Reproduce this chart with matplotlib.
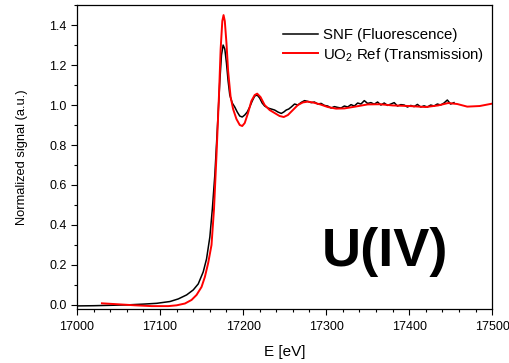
import matplotlib
matplotlib.use("Agg")
import matplotlib.pyplot as plt
from matplotlib.ticker import MultipleLocator

plt.rcParams['font.family'] = ['Liberation Sans', 'DejaVu Sans']

# SNF fluorescence XANES (energy in eV, normalized signal)
snf_E = [17000, 17020, 17040, 17060, 17080, 17096, 17112, 17122, 17132, 17140,
         17146, 17152, 17156, 17160, 17163, 17166, 17169, 17172, 17174, 17176,
         17178, 17180, 17182, 17184, 17187, 17190, 17193, 17196, 17199, 17202,
         17205, 17208, 17211, 17214, 17217, 17220, 17223, 17226, 17230, 17234,
         17238, 17242, 17246, 17249, 17252, 17255, 17258, 17262, 17266, 17270,
         17274, 17278, 17282, 17286, 17290, 17294, 17298, 17302, 17306, 17310,
         17314, 17318, 17322, 17326, 17330, 17334, 17338, 17342, 17346, 17350,
         17354, 17358, 17362, 17366, 17370, 17374, 17378, 17382, 17386, 17390,
         17394, 17398, 17402, 17406, 17410, 17414, 17418, 17422, 17426, 17430,
         17434, 17438, 17442, 17446, 17450, 17454]
snf_mu = [-0.005, -0.004, -0.002, 0.000, 0.004, 0.008, 0.017, 0.030, 0.050, 0.075,
          0.105, 0.165, 0.230, 0.340, 0.480, 0.650, 0.880, 1.120, 1.250, 1.300,
          1.280, 1.210, 1.120, 1.050, 1.010, 0.990, 0.965, 0.945, 0.940, 0.950,
          0.965, 0.990, 1.020, 1.045, 1.050, 1.035, 1.010, 0.995, 0.985, 0.980,
          0.975, 0.965, 0.958, 0.965, 0.975, 0.980, 0.990, 1.005, 1.000, 1.013,
          1.022, 1.018, 1.012, 1.015, 1.005, 1.008, 0.998, 0.995, 0.985, 0.992,
          0.988, 0.985, 0.995, 0.990, 1.002, 0.995, 1.010, 1.005, 1.022, 1.008,
          1.012, 1.004, 1.015, 1.000, 1.010, 0.998, 1.005, 1.012, 0.995, 1.002,
          1.000, 0.990, 0.998, 0.992, 1.003, 0.990, 0.996, 0.990, 1.000, 0.995,
          1.005, 1.000, 1.010, 1.025, 1.005, 1.012]

# UO2 reference, transmission
uo2_E = [17030, 17050, 17070, 17090, 17110, 17120, 17130, 17138, 17144, 17150,
         17154, 17158, 17162, 17165, 17168, 17171, 17173, 17175, 17176.5, 17178,
         17180, 17182, 17185, 17188, 17192, 17196, 17199, 17202, 17206, 17210,
         17214, 17217, 17221, 17226, 17232, 17238, 17244, 17249, 17254, 17260,
         17266, 17272, 17278, 17285, 17293, 17302, 17312, 17322, 17335, 17350,
         17365, 17380, 17400, 17420, 17435, 17447, 17458, 17470, 17485, 17500]
uo2_mu = [0.008, 0.003, -0.002, -0.006, -0.006, -0.002, 0.007, 0.025, 0.050, 0.090,
          0.140, 0.210, 0.300, 0.480, 0.750, 1.050, 1.280, 1.420, 1.450, 1.420,
          1.310, 1.170, 1.040, 0.980, 0.930, 0.900, 0.895, 0.910, 0.960, 1.020,
          1.050, 1.057, 1.040, 1.000, 0.975, 0.960, 0.945, 0.940, 0.950, 0.975,
          1.000, 1.013, 1.017, 1.012, 1.003, 0.990, 0.982, 0.983, 0.992, 1.003,
          1.004, 0.998, 0.995, 0.990, 0.998, 1.010, 1.005, 0.992, 0.995, 1.007]

fig = plt.figure(figsize=(5.1, 3.63), dpi=100)
ax = fig.add_axes([0.151, 0.149, 0.814, 0.837])

ax.plot(snf_E, snf_mu, color='black', lw=1.1, label='SNF (Fluorescence)')
ax.plot(uo2_E, uo2_mu, color='#ff0000', lw=1.4, label='UO$_\\mathregular{2}$ Ref (Transmission)')

ax.set_xlim(17000, 17500)
ax.set_ylim(-0.02, 1.5)
ax.xaxis.set_major_locator(MultipleLocator(100))
ax.xaxis.set_minor_locator(MultipleLocator(20))
ax.yaxis.set_major_locator(MultipleLocator(0.2))
ax.yaxis.set_minor_locator(MultipleLocator(0.1))
ax.yaxis.set_major_formatter(plt.FormatStrFormatter('%.1f'))
ax.tick_params(which='both', direction='out', top=False, right=False, labelsize=9, width=0.8)
ax.tick_params(which='major', length=4)
ax.tick_params(axis='x', which='major', pad=5)
ax.tick_params(which='minor', length=2.5)
for s in ax.spines.values():
    s.set_linewidth(0.9)

ax.set_xlabel('E [eV]', fontsize=11, labelpad=8)
ax.set_ylabel('Normalized signal (a.u.)', fontsize=9.3, labelpad=15)

ax.legend(loc='upper right', bbox_to_anchor=(0.995, 0.945), borderaxespad=0,
          frameon=False, fontsize=10.8, handlelength=2.3,
          handletextpad=0.35, labelspacing=0.25)

ax.text(17371, 0.265, 'U(IV)', fontsize=39, fontweight='bold', ha='center', va='center')

fig.savefig('out.png', dpi=100)
